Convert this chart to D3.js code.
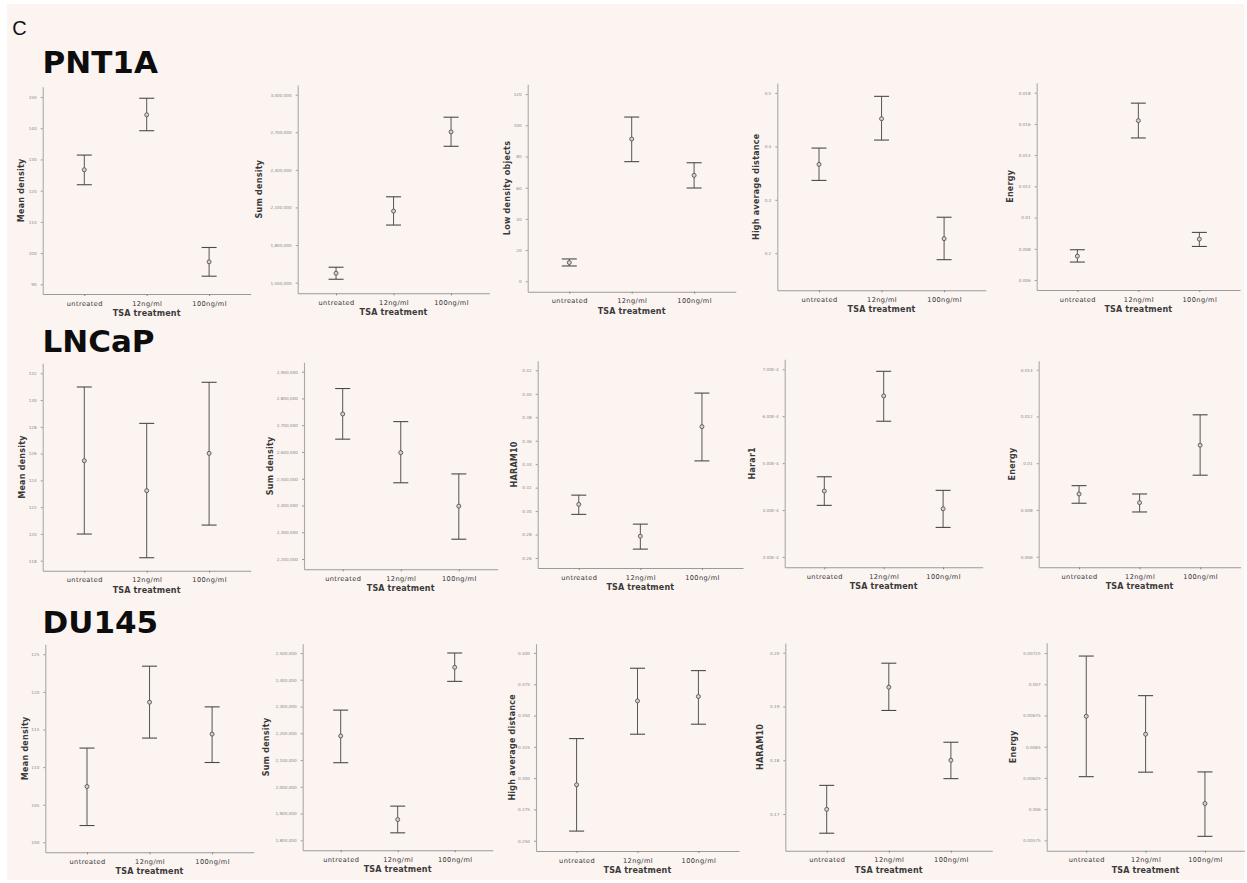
<!DOCTYPE html>
<html>
<head>
<meta charset="utf-8">
<script src="https://cdn.jsdelivr.net/npm/d3@7"></script>
<style>
  body { margin: 0; background: #ffffff; }
  svg { display: block; }
</style>
</head>
<body>
<svg id="fig" width="1247" height="883"></svg>
<script>
// Treatment groups along every x axis
const categories = ["untreated", "12ng/ml", "100ng/ml"];
const cellLines = ["PNT1A", "LNCaP", "DU145"];

// Each group: [lower 95% CI, mean, upper 95% CI]
const pnt1aMeanDensity      = [[121.9, 126.7, 131.4], [139.2, 144.3, 149.6], [92.6, 97.2, 101.8]];
const pnt1aSumDensity       = [[1527000, 1575000, 1623000], [1959600, 2071000, 2185000], [2588000, 2703000, 2820000]];
const pnt1aLowDensityObj    = [[9.8, 12.0, 14.3], [76.7, 91.2, 105.3], [59.8, 67.9, 76.0]];
const pnt1aHighAvgDistance  = [[0.3363, 0.3663, 0.3968], [0.4118, 0.4517, 0.4936], [0.188, 0.2273, 0.2674]];
const pnt1aEnergy           = [[0.00715, 0.00753, 0.00794], [0.0151, 0.01621, 0.01733], [0.00815, 0.00862, 0.00905]];

const lncapMeanDensity      = [[119.99, 125.47, 130.98], [118.22, 123.23, 128.26], [120.66, 126.02, 131.33]];
const lncapSumDensity       = [[2647800, 2742000, 2837000], [2484900, 2597500, 2713400], [2274000, 2397600, 2518000]];
const lncapHaram10          = [[0.2972, 0.3057, 0.3136], [0.2676, 0.2786, 0.2889], [0.3428, 0.372, 0.4006]];
const lncapHarar1           = [[4.10e-4, 4.405e-4, 4.71e-4], [5.893e-4, 6.433e-4, 6.957e-4], [3.63e-4, 4.028e-4, 4.42e-4]];
const lncapEnergy           = [[0.008287, 0.008684, 0.00904], [0.007914, 0.008312, 0.008684], [0.009487, 0.01077, 0.01207]];

const du145MeanDensity      = [[102.23, 107.42, 112.53], [113.86, 118.63, 123.42], [110.61, 114.39, 118.01]];
const du145SumDensity       = [[2090000, 2189900, 2286500], [1827900, 1877600, 1927700], [2394000, 2446500, 2500000]];
const du145HighAvgDistance  = [[0.2577, 0.2947, 0.3316], [0.3351, 0.3617, 0.3878], [0.3431, 0.3652, 0.3859]];
const du145Haram10          = [[0.16643, 0.17087, 0.17533], [0.18926, 0.19359, 0.19805], [0.17658, 0.18, 0.18335]];
const du145Energy           = [[0.00626, 0.006744, 0.007226], [0.006296, 0.0066, 0.006909], [0.005782, 0.006045, 0.006298]];

// Y tick values and their printed labels
const ticksMean1   = [90, 100, 110, 120, 130, 140, 150];
const labelsMean1  = ["90", "100", "110", "120", "130", "140", "150"];
const ticksSum1    = [1500000, 1800000, 2100000, 2400000, 2700000, 3000000];
const labelsSum1   = ["1,500,000", "1,800,000", "2,100,000", "2,400,000", "2,700,000", "3,000,000"];
const ticksLow1    = [0, 20, 40, 60, 80, 100, 120];
const labelsLow1   = ["0", "20", "40", "60", "80", "100", "120"];
const ticksHigh1   = [0.2, 0.3, 0.4, 0.5];
const labelsHigh1  = ["0.2", "0.3", "0.4", "0.5"];
const ticksEn1     = [0.006, 0.008, 0.010, 0.012, 0.014, 0.016, 0.018];
const labelsEn1    = ["0.006", "0.008", "0.01", "0.012", "0.014", "0.016", "0.018"];

const ticksMean2   = [118, 120, 122, 124, 126, 128, 130, 132];
const labelsMean2  = ["118", "120", "122", "124", "126", "128", "130", "132"];
const ticksSum2    = [2200000, 2300000, 2400000, 2500000, 2600000, 2700000, 2800000, 2900000];
const labelsSum2   = ["2,200,000", "2,300,000", "2,400,000", "2,500,000", "2,600,000", "2,700,000", "2,800,000", "2,900,000"];
const ticksHaram2  = [0.26, 0.28, 0.30, 0.32, 0.34, 0.36, 0.38, 0.40, 0.42];
const labelsHaram2 = ["0.26", "0.28", "0.30", "0.32", "0.34", "0.36", "0.38", "0.40", "0.42"];
const ticksHarar2  = [3e-4, 4e-4, 5e-4, 6e-4, 7e-4];
const labelsHarar2 = ["3.00E-4", "4.00E-4", "5.00E-4", "6.00E-4", "7.00E-4"];
const ticksEn2     = [0.006, 0.008, 0.010, 0.012, 0.014];
const labelsEn2    = ["0.006", "0.008", "0.01", "0.012", "0.014"];

const ticksMean3   = [100, 105, 110, 115, 120, 125];
const labelsMean3  = ["100", "105", "110", "115", "120", "125"];
const ticksSum3    = [1800000, 1900000, 2000000, 2100000, 2200000, 2300000, 2400000, 2500000];
const labelsSum3   = ["1,800,000", "1,900,000", "2,000,000", "2,100,000", "2,200,000", "2,300,000", "2,400,000", "2,500,000"];
const ticksHigh3   = [0.25, 0.275, 0.30, 0.325, 0.35, 0.375, 0.40];
const labelsHigh3  = ["0.250", "0.275", "0.300", "0.325", "0.350", "0.375", "0.400"];
const ticksHaram3  = [0.17, 0.18, 0.19, 0.20];
const labelsHaram3 = ["0.17", "0.18", "0.19", "0.20"];
const ticksEn3     = [0.00575, 0.006, 0.00625, 0.0065, 0.00675, 0.007, 0.00725];
const labelsEn3    = ["0.00575", "0.006", "0.00625", "0.0065", "0.00675", "0.007", "0.00725"];

// Value range shown on each y axis
const domMean1 = [86.9, 153.3],   domSum1 = [1415000, 3077000], domLow1 = [-6.7, 126.3];
const domHigh1 = [0.1307, 0.518], domEn1 = [0.00536, 0.01864];
const domMean2 = [117.25, 132.75], domSum2 = [2161600, 2935000], domHaram2 = [0.2515, 0.4282];
const domHarar2 = [2.78e-4, 7.213e-4], domEn2 = [0.005547, 0.014385];
const domMean3 = [98.67, 126.33], domSum3 = [1762600, 2534800], domHigh3 = [0.2418, 0.4074];
const domHaram3 = [0.16318, 0.20175], domEn3 = [0.005667, 0.007333];

// Panel definitions: measure name, values, ticks, labels, range, plot frame
const panels = [
  { title: "Mean density", data: pnt1aMeanDensity, ticks: ticksMean1, labels: labelsMean1, dom: domMean1,
    f: { x0: 42.7, x1: 250.7, y0: 86.7, y1: 294, tdx: -21 } },
  { title: "Sum density", data: pnt1aSumDensity, ticks: ticksSum1, labels: labelsSum1, dom: domSum1,
    f: { x0: 297.7, x1: 489.4, y0: 85, y1: 293.3, tdx: -38 } },
  { title: "Low density objects", data: pnt1aLowDensityObj, ticks: ticksLow1, labels: labelsLow1, dom: domLow1,
    f: { x0: 527.7, x1: 735.7, y0: 84.3, y1: 291.7, tdx: -20.4 } },
  { title: "High average distance", data: pnt1aHighAvgDistance, ticks: ticksHigh1, labels: labelsHigh1, dom: domHigh1,
    f: { x0: 777.3, x1: 985.8, y0: 83.3, y1: 290.3, tdx: -20.6 } },
  { title: "Energy", data: pnt1aEnergy, ticks: ticksEn1, labels: labelsEn1, dom: domEn1,
    f: { x0: 1036.7, x1: 1240, y0: 82.7, y1: 290, tdx: -26.7 } },

  { title: "Mean density", data: lncapMeanDensity, ticks: ticksMean2, labels: labelsMean2, dom: domMean2,
    f: { x0: 42.7, x1: 250.7, y0: 363.3, y1: 570.7, tdx: -20.4 } },
  { title: "Sum density", data: lncapSumDensity, ticks: ticksSum2, labels: labelsSum2, dom: domSum2,
    f: { x0: 304, x1: 497.5, y0: 362.3, y1: 569.3, tdx: -34 } },
  { title: "HARAM10", data: lncapHaram10, ticks: ticksHaram2, labels: labelsHaram2, dom: domHaram2,
    f: { x0: 537.7, x1: 743, y0: 360.7, y1: 568, tdx: -23.4 } },
  { title: "Harar1", data: lncapHarar1, ticks: ticksHarar2, labels: labelsHarar2, dom: domHarar2,
    f: { x0: 784.7, x1: 982.7, y0: 359.3, y1: 567.3, tdx: -32 } },
  { title: "Energy", data: lncapEnergy, ticks: ticksEn2, labels: labelsEn2, dom: domEn2,
    f: { x0: 1038.7, x1: 1240.5, y0: 360.7, y1: 567.3, tdx: -26 } },

  { title: "Mean density", data: du145MeanDensity, ticks: ticksMean3, labels: labelsMean3, dom: domMean3,
    f: { x0: 45.3, x1: 253.8, y0: 644.3, y1: 852.3, tdx: -20.3 } },
  { title: "Sum density", data: du145SumDensity, ticks: ticksSum3, labels: labelsSum3, dom: domSum3,
    f: { x0: 302.7, x1: 492.7, y0: 643.7, y1: 850.3, tdx: -36 } },
  { title: "High average distance", data: du145HighAvgDistance, ticks: ticksHigh3, labels: labelsHigh3, dom: domHigh3,
    f: { x0: 536, x1: 739, y0: 643.7, y1: 851, tdx: -23.7 } },
  { title: "HARAM10", data: du145Haram10, ticks: ticksHaram3, labels: labelsHaram3, dom: domHaram3,
    f: { x0: 785.3, x1: 992.3, y0: 643.3, y1: 850.7, tdx: -25.3 } },
  { title: "Energy", data: du145Energy, ticks: ticksEn3, labels: labelsEn3, dom: domEn3,
    f: { x0: 1046.7, x1: 1244.5, y0: 642.7, y1: 850.7, tdx: -33.4 } }
];

const rowTitleBaselines = [73.3, 352.3, 633.3];

const svg = d3.select("#fig");
const font = "'DejaVu Sans', Verdana, sans-serif";

// Page background
svg.append("rect").attr("x", 0).attr("y", 0).attr("width", 1247).attr("height", 883).attr("fill", "#ffffff");
svg.append("rect").attr("x", 7).attr("y", 4).attr("width", 1237).attr("height", 876).attr("fill", "#fbf4f1");

// Figure part letter
svg.append("text").attr("x", 12.3).attr("y", 35)
  .attr("font-family", "'Liberation Sans', Arial, sans-serif").attr("font-size", 20)
  .attr("fill", "#111").text("C");

// Cell line headings
cellLines.forEach((name, i) => {
  svg.append("text").attr("x", 42.5).attr("y", rowTitleBaselines[i])
    .attr("font-family", font).attr("font-weight", "bold").attr("font-size", 31)
    .attr("fill", "#0d0d0d").text(name);
});

panels.forEach(p => {
  const f = p.f;
  const g = svg.append("g");
  const x = d3.scalePoint().domain(categories).range([f.x0, f.x1]).padding(2 / 3);
  const y = d3.scaleLinear().domain(p.dom).range([f.y1, f.y0]);

  // Y axis
  const ya = g.append("g").attr("transform", `translate(${f.x0},0)`)
    .call(d3.axisLeft(y).tickValues(p.ticks).tickFormat((d, i) => p.labels[i])
      .tickSize(2).tickSizeOuter(0).tickPadding(4));
  ya.select(".domain").attr("stroke", "#a9a9a9").attr("stroke-width", 1.1);
  ya.selectAll(".tick line").attr("stroke", "#9a9a9a");
  ya.selectAll(".tick text").attr("font-family", font).attr("font-size", 4.2).attr("fill", "#8a8a8a");

  // X axis
  const xa = g.append("g").attr("transform", `translate(0,${f.y1})`)
    .call(d3.axisBottom(x).tickSize(2).tickSizeOuter(0).tickPadding(5));
  xa.select(".domain").attr("stroke", "#9a9a9a").attr("stroke-width", 1.1);
  xa.selectAll(".tick line").attr("stroke", "#888");
  xa.selectAll(".tick text").attr("font-family", font).attr("font-size", 6.6)
    .attr("fill", "#333").attr("letter-spacing", 0.4);

  // Axis titles
  g.append("text").attr("x", (f.x0 + f.x1) / 2).attr("y", f.y1 + 22)
    .attr("text-anchor", "middle").attr("font-family", font).attr("font-weight", "bold")
    .attr("font-size", 8).attr("fill", "#3a3a3a").attr("letter-spacing", 0.15).text("TSA treatment");
  g.append("text")
    .attr("transform", `translate(${f.x0 + f.tdx},${(f.y0 + f.y1) / 2}) rotate(-90)`)
    .attr("text-anchor", "middle").attr("dominant-baseline", "central")
    .attr("font-family", font).attr("font-weight", "bold").attr("font-size", 8)
    .attr("fill", "#3a3a3a").attr("letter-spacing", 0.25).text(p.title);

  // Error bars with mean markers
  const bars = g.selectAll(".bar").data(p.data.map((d, i) => ({ cat: categories[i], lo: d[0], mean: d[1], hi: d[2] })))
    .enter().append("g").attr("class", "bar");
  bars.append("line")
    .attr("x1", d => x(d.cat)).attr("x2", d => x(d.cat))
    .attr("y1", d => y(d.lo)).attr("y2", d => y(d.hi))
    .attr("stroke", "#555").attr("stroke-width", 1);
  bars.append("line")
    .attr("x1", d => x(d.cat) - 7.5).attr("x2", d => x(d.cat) + 7.5)
    .attr("y1", d => y(d.hi)).attr("y2", d => y(d.hi))
    .attr("stroke", "#4a4a4a").attr("stroke-width", 1.1);
  bars.append("line")
    .attr("x1", d => x(d.cat) - 7.5).attr("x2", d => x(d.cat) + 7.5)
    .attr("y1", d => y(d.lo)).attr("y2", d => y(d.lo))
    .attr("stroke", "#4a4a4a").attr("stroke-width", 1.1);
  bars.append("circle")
    .attr("cx", d => x(d.cat)).attr("cy", d => y(d.mean)).attr("r", 2)
    .attr("fill", "#d8d2cf").attr("stroke", "#555").attr("stroke-width", 0.9);
});
</script>
</body>
</html>
